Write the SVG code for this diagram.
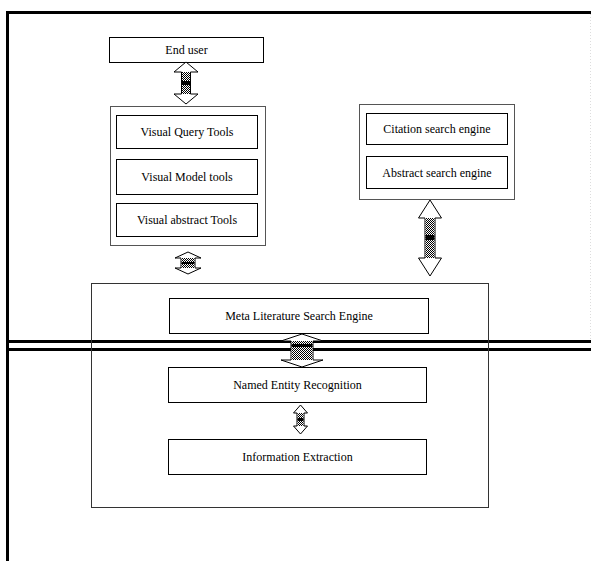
<svg xmlns="http://www.w3.org/2000/svg" width="591" height="561" viewBox="0 0 591 561">
<defs>
<pattern id="stip" width="2" height="2" patternUnits="userSpaceOnUse">
<rect width="2" height="2" fill="#fff"/>
<rect width="1" height="1" fill="#000"/>
<rect x="1" y="1" width="1" height="1" fill="#000"/>
</pattern>
</defs>
<style>
.frame{stroke:#000;stroke-width:3;fill:none}
.box{fill:#fff;stroke:#000;stroke-width:1}
.outer{fill:#fff;stroke:#555;stroke-width:1}
.big{fill:none;stroke:#333;stroke-width:1}
.t{font-family:"Liberation Serif","Times New Roman",serif;font-size:12px;fill:#000;text-anchor:middle}
.ah{fill:#fff;stroke:#000;stroke-width:1}
.sh{fill:url(#stip)}
</style>
<g id="frames">
<path class="frame" d="M7.5,561 V12.5 H591"/>
<line class="frame" x1="7" y1="341.5" x2="591" y2="341.5"/>
<line class="frame" x1="7" y1="349.5" x2="591" y2="349.5"/>
<line x1="590.5" y1="14" x2="590.5" y2="340" stroke="#ddd" stroke-width="1" stroke-dasharray="1,2"/>
</g>
<g id="meta-container">
<rect class="big" x="91.5" y="283.5" width="397" height="224"/>
</g>
<g id="end-user">
<rect class="box" x="109.5" y="37.5" width="154" height="25"/>
<text class="t" x="186.5" y="54">End user</text>
</g>
<g id="visual-tools">
<rect class="outer" x="110.5" y="106.5" width="155" height="139"/>
<rect class="box" x="116.5" y="115.5" width="141" height="33"/>
<text class="t" x="187" y="136">Visual Query Tools</text>
<rect class="box" x="116.5" y="159.5" width="141" height="35"/>
<text class="t" x="187" y="181">Visual Model tools</text>
<rect class="box" x="116.5" y="203.5" width="141" height="33"/>
<text class="t" x="187" y="224">Visual abstract Tools</text>
</g>
<g id="search-engines">
<rect class="outer" x="359.5" y="104.5" width="155" height="95"/>
<rect class="box" x="366.5" y="113.5" width="141" height="31"/>
<text class="t" x="437" y="133">Citation search engine</text>
<rect class="box" x="366.5" y="156.5" width="141" height="32"/>
<text class="t" x="437" y="176.5">Abstract search engine</text>
</g>
<g id="meta-engine">
<rect class="box" x="169.5" y="298.5" width="259" height="35"/>
<text class="t" x="299" y="320">Meta Literature Search Engine</text>
</g>
<g id="ner">
<rect class="box" x="168.5" y="367.5" width="258" height="35"/>
<text class="t" x="297.5" y="389">Named Entity Recognition</text>
</g>
<g id="ie">
<rect class="box" x="168.5" y="439.5" width="258" height="35"/>
<text class="t" x="297.5" y="461">Information Extraction</text>
</g>
<g id="connectors">
<path class="ah" d="M186,62 L198,72 L190.5,72 L190.5,94 L198,94 L186,104 L174,94 L181.5,94 L181.5,72 L174,72 Z"/>
<rect class="sh" x="182" y="72" width="8" height="22"/>
<rect x="182" y="81" width="8" height="4" fill="#000"/>
<path class="ah" d="M188,252 L201,258 L195,258 L195,268 L201,268 L188,274 L175,268 L181,268 L181,258 L175,258 Z"/>
<rect class="sh" x="181.5" y="258" width="13" height="10"/>
<rect x="181.5" y="262" width="13" height="2" fill="#000"/>
<path class="ah" d="M430,200 L441.5,218 L435,218 L435,258 L441.5,258 L430,276 L418.5,258 L425,258 L425,218 L418.5,218 Z"/>
<rect class="sh" x="425.5" y="218" width="9" height="40"/>
<rect x="425.5" y="235" width="9" height="5" fill="#000"/>
<path class="ah" d="M302,334 L323,341 L313,341 L313,360 L323,360 L302,367 L281,360 L291,360 L291,341 L281,341 Z"/>
<rect class="sh" x="291.5" y="341" width="21" height="19"/>
<rect x="291.5" y="344" width="21" height="3" fill="#000"/>
<path class="ah" d="M300.5,405 L307.5,413 L304,413 L304,426 L307.5,426 L300.5,434 L293.5,426 L297,426 L297,413 L293.5,413 Z"/>
<rect class="sh" x="297.5" y="413" width="6" height="13"/>
<rect x="297.5" y="418" width="6" height="3" fill="#000"/>
</g>
</svg>
